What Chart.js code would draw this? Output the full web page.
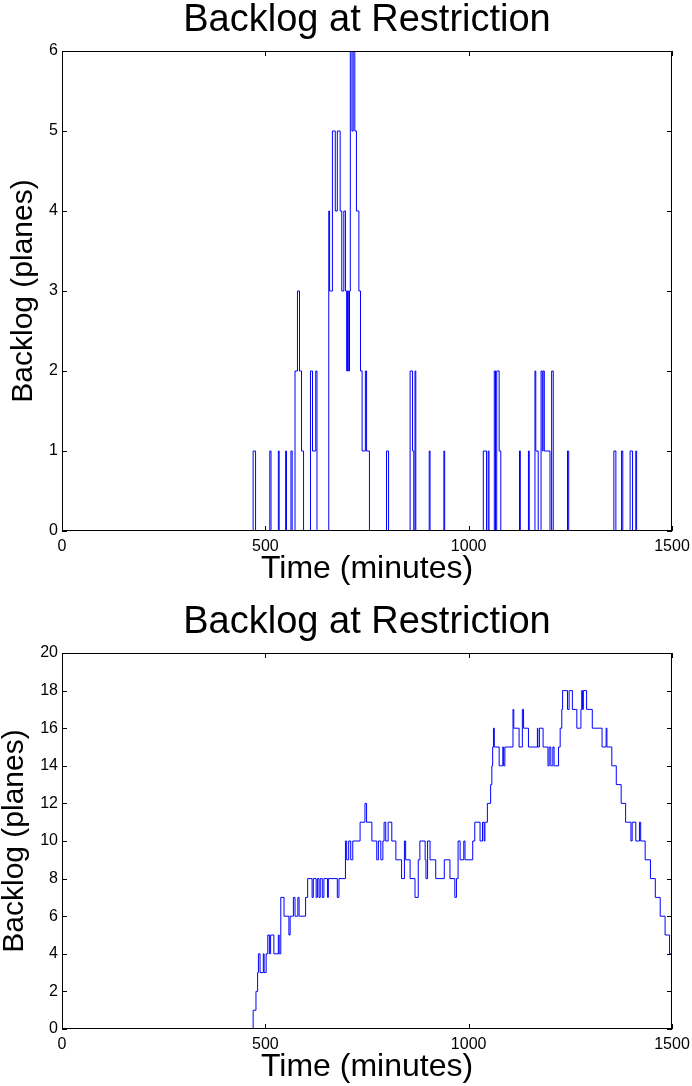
<!DOCTYPE html>
<html>
<head>
<meta charset="utf-8">
<script src="https://cdn.jsdelivr.net/npm/chart.js@4.4.1/dist/chart.umd.min.js"></script>
<style>
  body { margin: 0; background: #fff; }
  canvas { display: block; }
</style>
</head>
<body>
<canvas id="topChart" width="692" height="590"></canvas>
<canvas id="bottomChart" width="692" height="496"></canvas>
<script>
// top plot: minute where backlog changes, and the new backlog value
var topTime = [0, 470, 476, 511, 514, 532, 534, 550, 552, 563, 566, 573, 579, 584, 589, 594,
  611, 616, 624, 627, 656, 658, 665, 672, 677, 684, 688, 693, 697, 700, 702, 705, 707, 709,
  713, 716, 720, 724, 730, 734, 738, 746, 749, 756, 798, 803, 856, 862, 865, 868, 870, 903,
  905, 939, 941, 1036, 1044, 1048, 1050, 1063, 1066, 1069, 1075, 1079, 1125, 1127, 1147,
  1149, 1163, 1165, 1171, 1178, 1181, 1183, 1186, 1200, 1204, 1208, 1243, 1246, 1357, 1362,
  1376, 1379, 1397, 1403, 1411, 1413, 1500];
var topBacklog = [0, 1, 0, 1, 0, 1, 0, 1, 0, 1, 0, 2, 3, 2, 1, 0,
  2, 1, 2, 0, 4, 3, 5, 4, 5, 4, 3, 4, 3, 2, 3, 2, 3, 6,
  5, 6, 5, 4, 3, 2, 1, 2, 1, 0, 1, 0, 2, 1, 0, 2, 0, 1,
  0, 1, 0, 1, 0, 1, 0, 2, 0, 2, 1, 0, 1, 0, 1,
  0, 2, 1, 0, 2, 1, 2, 1, 0, 2, 0, 1, 0, 1, 0,
  1, 0, 1, 0, 1, 0, 0];

// bottom plot
var botTime = [0, 470, 477, 481, 483, 487, 495, 497, 502, 506, 510, 513, 521, 532, 534, 538,
  546, 558, 561, 569, 573, 580, 583, 599, 604, 615, 618, 625, 628, 632, 635, 640, 644, 653,
  655, 677, 681, 697, 700, 705, 710, 715, 733, 745, 749, 762, 774, 778, 784, 789, 792, 796,
  802, 811, 821, 835, 842, 845, 856, 868, 876, 880, 893, 895, 899, 905, 919, 940, 954, 966,
  970, 974, 979, 988, 991, 1010, 1015, 1028, 1034, 1038, 1040, 1046, 1054, 1057, 1059, 1061,
  1063, 1075, 1084, 1086, 1089, 1109, 1111, 1124, 1132, 1135, 1147, 1169, 1170, 1174, 1183,
  1195, 1198, 1202, 1207, 1210, 1221, 1225, 1229, 1231, 1243, 1247, 1255, 1266, 1276, 1278,
  1280, 1282, 1290, 1304, 1328, 1338, 1340, 1352, 1363, 1375, 1386, 1399, 1402, 1411, 1420,
  1423, 1434, 1447, 1459, 1471, 1483, 1494, 1500];
var botBacklog = [0, 1, 2, 3, 4, 3, 4, 3, 4, 5, 4, 5, 4, 5, 4, 7,
  6, 5, 6, 7, 6, 7, 6, 7, 8, 7, 8, 7, 8, 7, 8, 7, 8, 7,
  8, 7, 8, 10, 9, 10, 9, 10, 11, 12, 11, 10, 9, 10, 9, 10, 11, 10,
  11, 10, 9, 8, 10, 9, 8, 7, 9, 10, 9, 8, 10, 9, 8, 9, 8, 7,
  8, 10, 9, 10, 9, 10, 11, 10, 11, 10, 11, 12, 13, 14, 15, 16,
  15, 14, 15, 14, 15, 17, 16, 15, 17, 16, 15, 16, 15, 16, 15,
  14, 15, 14, 15, 14, 15, 16, 17, 18, 17, 18, 17, 16, 17, 18,
  17, 18, 17, 16, 15, 16, 15, 14, 13, 12, 11, 10, 11, 10, 11,
  10, 9, 8, 7, 6, 5, 4, 4];

var xTicks = [0, 500, 1000, 1500];
var titleText = 'Backlog at Restriction';
var xLabel = 'Time (minutes)';
var yLabel = 'Backlog (planes)';

Chart.defaults.font.family = '"Liberation Sans", Arial, sans-serif';
Chart.defaults.color = '#000';

// box around the plot and inward ticks, like matlab
var boxTicks = {
  id: 'boxTicks',
  afterDatasetsDraw: function(chart) {
    var ctx = chart.ctx, a = chart.chartArea;
    var x = chart.scales.x, y = chart.scales.y;
    ctx.save();
    ctx.strokeStyle = '#000';
    ctx.lineWidth = 1;
    ctx.beginPath();
    x.ticks.forEach(function(t) {
      var px = Math.round(x.getPixelForValue(t.value)) + 0.5;
      ctx.moveTo(px, a.bottom); ctx.lineTo(px, a.bottom - 5);
      ctx.moveTo(px, a.top); ctx.lineTo(px, a.top + 5);
    });
    y.ticks.forEach(function(t) {
      var py = Math.round(y.getPixelForValue(t.value)) + 0.5;
      ctx.moveTo(a.left, py); ctx.lineTo(a.left + 5, py);
      ctx.moveTo(a.right, py); ctx.lineTo(a.right - 5, py);
    });
    ctx.stroke();
    ctx.strokeRect(Math.round(a.left) + 0.5, Math.round(a.top) + 0.5,
      Math.round(a.width) - 1, Math.round(a.height) - 1);
    ctx.restore();
  }
};

function plain(v) { return String(v); }

function makeChart(id, times, values, yMax, yStep, topH, titleTop, xHeight, xTitlePad, yTitlePad) {
  var pts = times.map(function(t, i) { return { x: t, y: values[i] }; });
  return new Chart(document.getElementById(id).getContext('2d'), {
    type: 'line',
    data: {
      datasets: [{
        data: pts,
        borderColor: '#0000ff',
        borderWidth: 1,
        pointRadius: 0,
        stepped: true,
        fill: false
      }]
    },
    options: {
      responsive: false,
      animation: false,
      layout: { padding: { left: 0, right: 20, top: 0, bottom: 0 } },
      plugins: {
        legend: { display: false },
        tooltip: { enabled: false }
      },
      scales: {
        // top axis only carries the plot title, centred over the axes box
        x2: {
          type: 'linear',
          position: 'top',
          min: 0, max: 1500,
          grid: { display: false, drawTicks: false },
          border: { display: false },
          ticks: { display: false },
          afterFit: function(s) { s.height = topH; s.paddingLeft = 0; s.paddingRight = 0; },
          title: { display: true, text: titleText, font: { size: 38, lineHeight: 1 }, padding: { top: titleTop, bottom: 0 } }
        },
        x: {
          type: 'linear',
          min: 0, max: 1500,
          grid: { display: false, drawTicks: false },
          border: { display: false },
          afterBuildTicks: function(s) { s.ticks = xTicks.map(function(v) { return { value: v }; }); },
          afterFit: function(s) { s.height = xHeight; s.paddingLeft = 0; s.paddingRight = 0; },
          ticks: { font: { size: 16 }, padding: 6, autoSkip: false, maxRotation: 0, callback: plain },
          title: { display: true, text: xLabel, font: { size: 32 }, padding: { top: 0, bottom: xTitlePad } }
        },
        y: {
          min: 0, max: yMax,
          grid: { display: false, drawTicks: false },
          border: { display: false },
          afterFit: function(s) { s.width = 62; s.paddingTop = 0; s.paddingBottom = 0; },
          ticks: { stepSize: yStep, font: { size: 16 }, padding: 4, autoSkip: false, callback: plain },
          title: { display: true, text: yLabel, font: { size: 30, lineHeight: 1 }, padding: { top: yTitlePad, bottom: 0 } }
        }
      }
    },
    plugins: [boxTicks]
  });
}

makeChart('topChart', topTime, topBacklog, 6, 1, 51, 2, 59, 2, 9);
makeChart('bottomChart', botTime, botBacklog, 20, 2, 63, 14, 57, 0, 0);
</script>
</body>
</html>
